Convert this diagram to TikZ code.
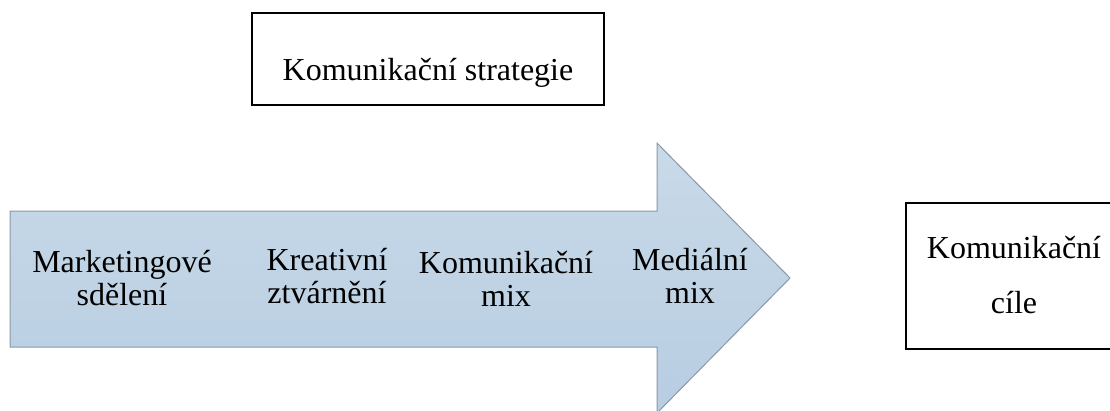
\documentclass[tikz,border=0pt]{standalone}
\usepackage{fontspec}
\setmainfont{Liberation Serif}
\begin{document}
\begin{tikzpicture}[x=1pt,y=-1pt,
  box/.style={draw=black,line width=1.5pt,inner sep=0pt},
  txt/.style={inner sep=0pt,align=center,font=\fontsize{32}{33}\selectfont,anchor=base},
  arrowbody/.style={draw=arrowline,line width=1pt,top color=arrowtop,bottom color=arrowbot}]
\definecolor{arrowtop}{HTML}{C9DAE8}
\definecolor{arrowbot}{HTML}{B7CDE2}
\definecolor{arrowline}{HTML}{8A98A6}
\useasboundingbox (0,0) rectangle (1110,410);
\clip (0,0) rectangle (1110,410);
% top box
\node[box,minimum width=352pt,minimum height=92pt] (strat) at (428,59) {};
\node[txt] (stratT) at (428,80) {Komunikační strategie};
% big arrow
\coordinate (a1) at (10,211);
\coordinate (a2) at (657,211);
\coordinate (a3) at (657,143);
\coordinate (a4) at (790,278);
\coordinate (a5) at (657,413);
\coordinate (a6) at (657,347);
\coordinate (a7) at (10,347);
\draw[arrowbody] (a1) -- (a2) -- (a3) -- (a4) -- (a5) -- (a6) -- (a7) -- cycle;
\node[txt] (t1) at (122,305) {Marketingové\\sdělení};
\node[txt] (t2) at (327,303) {Kreativní\\ztvárnění};
\node[txt] (t3) at (506,306) {Komunikační\\mix};
\node[txt] (t4) at (690,303) {Mediální\\mix};
% right box
\node[box,minimum width=216pt,minimum height=146pt] (cile) at (1014,276) {};
\node[txt,font=\fontsize{32}{55}\selectfont] (cileT) at (1014,313) {Komunikační\\cíle};
\end{tikzpicture}
\end{document}
